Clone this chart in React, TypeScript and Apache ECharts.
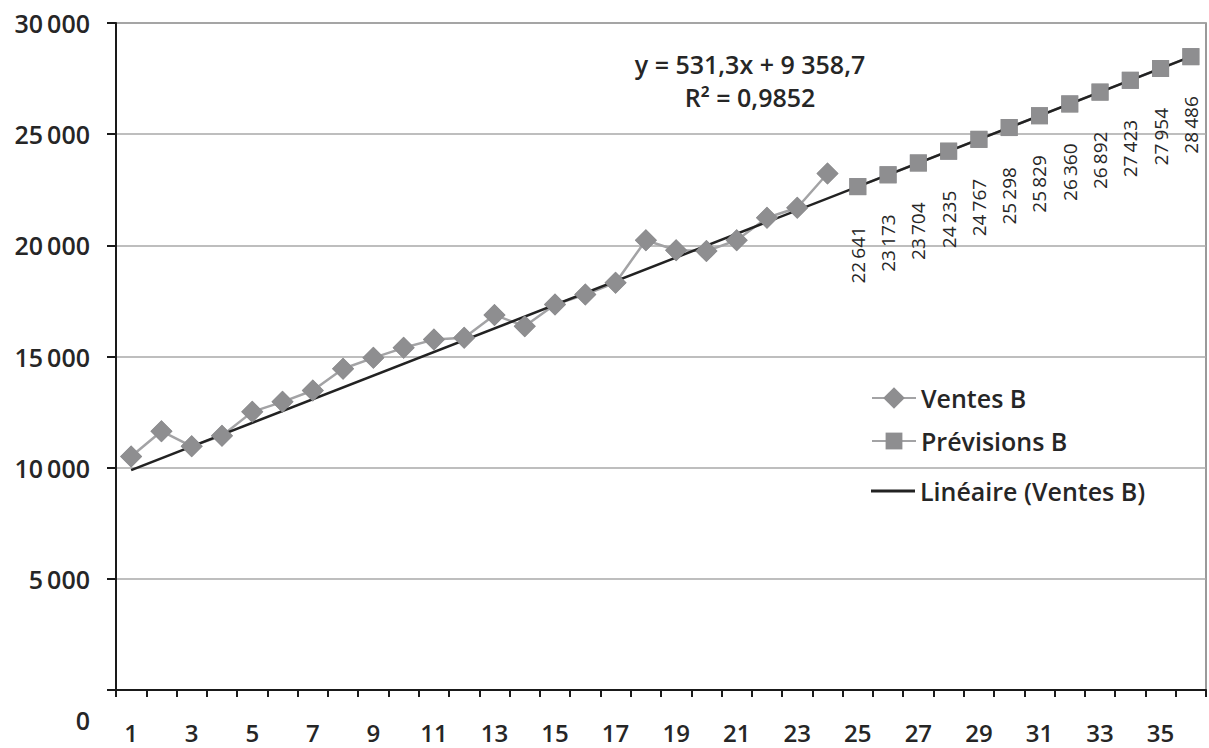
import React, { useEffect, useRef } from "react";
import * as echarts from "echarts";

// Periods on the category axis
const periods = [
  "1", "2", "3", "4", "5", "6", "7", "8", "9", "10", "11", "12",
  "13", "14", "15", "16", "17", "18", "19", "20", "21", "22", "23", "24",
  "25", "26", "27", "28", "29", "30", "31", "32", "33", "34", "35", "36",
];

// Observed sales, periods 1 to 24
const ventesB = [
  10500, 11640, 10960, 11440, 12510, 12960, 13470, 14450, 14940, 15390, 15760, 15840,
  16870, 16360, 17340, 17790, 18320, 20230, 19780, 19740, 20230, 21240, 21690, 23230,
];

// Forecasts, periods 25 to 36
const previsionsB = [22641, 23173, 23704, 24235, 24767, 25298, 25829, 26360, 26892, 27423, 27954, 28486];
const previsionsStart = 24; // index of the first forecast period

// Linear trend fitted on the sales
const trendSlope = 531.3;
const trendIntercept = 9358.7;
const trendPeriods = [1, 36];

const equationText = "y = 531,3x + 9 358,7";
const r2Text = "R² = 0,9852";

const FONT = "'Open Sans', 'Noto Sans', sans-serif";
const TEXT = "#262626";
const MARK = "#8e8e90";
const GRAYLINE = "#a3a3a5";
const TREND = "#222222";

const fmt = (v: number) => String(Math.round(v)).replace(/\B(?=(\d{3})+(?!\d))/g, "\u2009");

export default function App() {
  const ref = useRef<HTMLDivElement>(null);

  useEffect(() => {
    if (!ref.current) return;
    const chart = echarts.init(ref.current, undefined, { renderer: "svg" });

    const ventesData = ventesB.map((v, i) => [i, v]);
    const previsionsData = previsionsB.map((v, i) => [previsionsStart + i, v]);
    const trendData = trendPeriods.map((p) => [p - 1, trendSlope * p + trendIntercept]);

    const legendBase = {
      orient: "vertical" as const,
      left: 866,
      itemWidth: 44,
      textStyle: { fontSize: 25, fontWeight: 600, color: TEXT, fontFamily: FONT, lineHeight: 30 },
      selectedMode: false,
    };

    const eqStyle = {
      fontSize: 25,
      lineHeight: 28,
      fontWeight: 600,
      fill: TEXT,
      fontFamily: FONT,
      align: "center",
      verticalAlign: "middle",
    };

    chart.setOption({
      animation: false,
      backgroundColor: "#ffffff",
      textStyle: { fontFamily: FONT },
      grid: {
        left: 116,
        right: 3,
        top: 23,
        bottom: 58,
        show: true,
        borderColor: "#7a7a7a",
        borderWidth: 1.5,
        backgroundColor: "transparent",
      },
      legend: [
        { ...legendBase, top: 378, itemHeight: 27, data: ["Ventes B"] },
        { ...legendBase, top: 421, itemHeight: 21, data: ["Prévisions B"] },
        { ...legendBase, top: 471, itemHeight: 3, icon: "rect", data: ["Linéaire (Ventes B)"] },
      ],
      xAxis: {
        type: "category",
        data: periods,
        boundaryGap: true,
        axisLine: { lineStyle: { color: "#1a1a1a", width: 2 } },
        axisTick: { show: true, interval: 0, length: 7, lineStyle: { color: "#1a1a1a", width: 2 } },
        axisLabel: {
          interval: 1,
          margin: 30,
          fontSize: 24,
          lineHeight: 24,
          fontWeight: 600,
          color: TEXT,
          fontFamily: FONT,
        },
        splitLine: { show: false },
      },
      yAxis: {
        type: "value",
        min: 0,
        max: 30000,
        interval: 5000,
        axisLine: { show: true, lineStyle: { color: "#1a1a1a", width: 2 } },
        axisTick: { show: true, length: 9, lineStyle: { color: "#1a1a1a", width: 2 } },
        axisLabel: {
          margin: 26,
          fontSize: 25,
          fontWeight: 600,
          color: TEXT,
          fontFamily: FONT,
          formatter: (v: number) => (v === 0 ? "{z|0}" : fmt(v)),
          rich: {
            z: { fontSize: 25, fontWeight: 600, color: TEXT, fontFamily: FONT, padding: [60, 0, 0, 0] },
          },
        },
        splitLine: { show: true, lineStyle: { color: "#a8a8a8", width: 1.5 } },
      },
      graphic: [
        { type: "text", x: 750, y: 64, z: 10, style: { ...eqStyle, text: equationText } },
        { type: "text", x: 750, y: 97, z: 10, style: { ...eqStyle, text: r2Text } },
      ],
      series: [
        {
          name: "Ventes B",
          type: "line",
          data: ventesData,
          z: 2,
          symbol: "diamond",
          symbolSize: 22,
          showAllSymbol: true,
          itemStyle: { color: MARK },
          lineStyle: { color: GRAYLINE, width: 2.5 },
        },
        {
          name: "Prévisions B",
          type: "line",
          data: previsionsData,
          z: 2,
          symbol: "rect",
          symbolSize: 17,
          showAllSymbol: true,
          itemStyle: { color: MARK },
          lineStyle: { color: GRAYLINE, width: 2.5 },
          label: {
            show: true,
            position: "bottom",
            distance: 31,
            rotate: 90,
            align: "right",
            verticalAlign: "middle",
            fontSize: 19,
            color: TEXT,
            fontFamily: FONT,
            formatter: (p: any) => fmt(p.value[1]),
          },
        },
        {
          name: "Linéaire (Ventes B)",
          type: "line",
          data: trendData,
          z: 3,
          symbol: "none",
          itemStyle: { color: TREND },
          lineStyle: { color: TREND, width: 2.5 },
        },
        // markers drawn above the trend line
        {
          type: "scatter",
          data: ventesData,
          z: 4,
          symbol: "diamond",
          symbolSize: 22,
          itemStyle: { color: MARK, opacity: 1 },
          silent: true,
        },
        {
          type: "scatter",
          data: previsionsData,
          z: 4,
          symbol: "rect",
          symbolSize: 17,
          itemStyle: { color: MARK, opacity: 1 },
          silent: true,
        },
      ],
    });

    return () => chart.dispose();
  }, []);

  return (
    <div
      ref={ref}
      style={{ position: "fixed", left: 0, top: 0, width: 1209, height: 748, background: "#fff" }}
    />
  );
}
